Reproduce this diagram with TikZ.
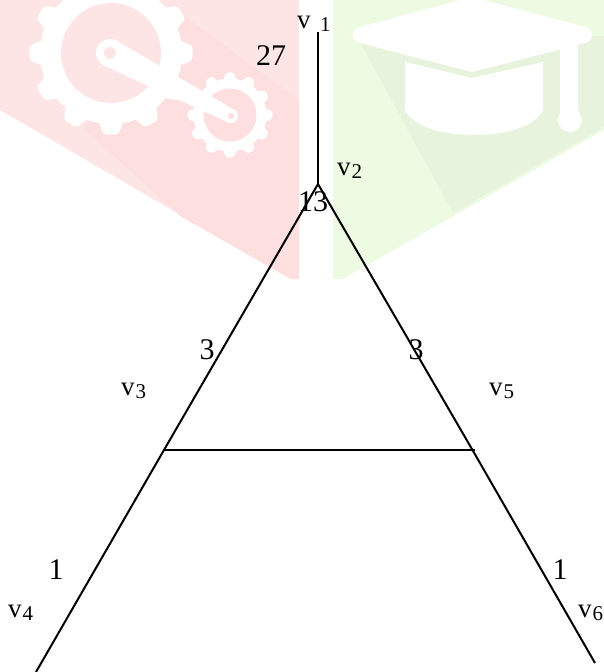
\documentclass[tikz,border=0pt]{standalone}
\usepackage{fontspec}
\setmainfont{Liberation Serif}
\definecolor{pinkA}{HTML}{FEE5E5}
\definecolor{pinkB}{HTML}{FDDFDF}
\definecolor{greenA}{HTML}{EEFBE3}
\definecolor{greenB}{HTML}{E7F3DD}
\tikzset{
  edge/.style={draw=black,line width=2pt},
  num/.style={font=\fontsize{30}{30}\selectfont,inner sep=0pt,text=black},
  lab/.style={font=\fontsize{27}{27}\selectfont,inner sep=0pt,text=black,anchor=base west}
}
\newcommand{\vsub}[1]{v\kern1pt\raisebox{-3pt}{\fontsize{21}{21}\selectfont #1}}
\begin{document}
\begin{tikzpicture}[x=1pt,y=-1pt]
\useasboundingbox (0,0) rectangle (604,672);
\clip (0,0) rectangle (604,672);
% watermark: red panel
\fill[pinkA] (0,0) -- (299,0) -- (299,279) -- (291,279) -- (0,110) -- cycle;
\fill[pinkB] (180,13) -- (299,100) -- (299,279) -- (291,279) -- (180,216) -- (83,128) -- cycle;
% large gear
\fill[white] (111,53) circle[radius=71];
\foreach \a in {0,30,...,330}{
  \fill[white,rounded corners=3pt,shift={(111,53)},rotate=\a] (67,13) -- (81.5,7.5) -- (81.5,-7.5) -- (67,-13) -- cycle;
}
\fill[pinkA] (111,53) circle[radius=50];
% small gear
\fill[white] (230,115) circle[radius=36.5];
\foreach \a in {0,30,...,330}{
  \fill[white,rounded corners=2pt,shift={(230,115)},rotate=\a] (34,7) -- (42.5,4) -- (42.5,-4) -- (34,-7) -- cycle;
}
\fill[pinkB] (230,115) circle[radius=26.5];
% crank arm
\fill[white] (103.6,65.4) -- (227.8,122.2) -- (234.2,109.8) -- (116.4,40.6) -- cycle;
\fill[white] (110,53) circle[radius=14];
\fill[white] (231,116) circle[radius=7];
\fill[pinkA] (110,53) circle[radius=6];
\fill[pinkB] (231,116) circle[radius=3];
% watermark: green panel
\fill[greenA] (333,0) -- (604,0) -- (604,130) -- (343,279) -- (333,279) -- cycle;
\fill[greenB] (360,42) -- (453,213) -- (604,127) -- (604,36) -- (590,36) -- cycle;
% mortarboard
\fill[white] (360,27) -- (472,-3) -- (585,27) -- (585,43) -- (472,72) -- (360,43) -- cycle;
\fill[white] (361,35) circle[radius=8];
\fill[white] (584,35) circle[radius=8];
\fill[white] (405,62) -- (472,78) -- (543,62) -- (543,110) .. controls (535,127) and (505,135) .. (474,135) .. controls (443,135) and (413,127) .. (405,110) -- cycle;
\fill[white] (560,38) rectangle (578,118);
\fill[white] (570,120) circle[radius=12];
% graph
\coordinate (v1) at (318,32);
\coordinate (v2) at (318,184);
\coordinate (v3) at (164,450);
\coordinate (v4) at (36,672);
\coordinate (v5) at (472.500,450);
\coordinate (v6) at (595,663);
\coordinate (cross) at (475,450);
\draw[edge] (v1) -- (v2);
\draw[edge,line join=miter] (v4) -- (v3) -- (v2) -- (v5) -- (v6);
\draw[edge] (v3) -- (cross);
% labels
\node[lab] (l1) at (297,28) {v};
\node[lab,font=\fontsize{21}{21}\selectfont] (l1b) at (320,31) {1};
\node[lab] (l2) at (337,175) {\vsub{2}};
\node[lab] (l3) at (121,395) {\vsub{3}};
\node[lab] (l5) at (489,395) {\vsub{5}};
\node[lab] (l4) at (8,617) {\vsub{4}};
\node[lab] (l6) at (578,617) {\vsub{6}};
\node[num] (w27) at (271,56) {27};
\node[num] (w13) at (313,202) {13};
\node[num] (w3a) at (207,350) {3};
\node[num] (w3b) at (416,350) {3};
\node[num] (w1a) at (56,570) {1};
\node[num] (w1b) at (560,570) {1};
\end{tikzpicture}
\end{document}
